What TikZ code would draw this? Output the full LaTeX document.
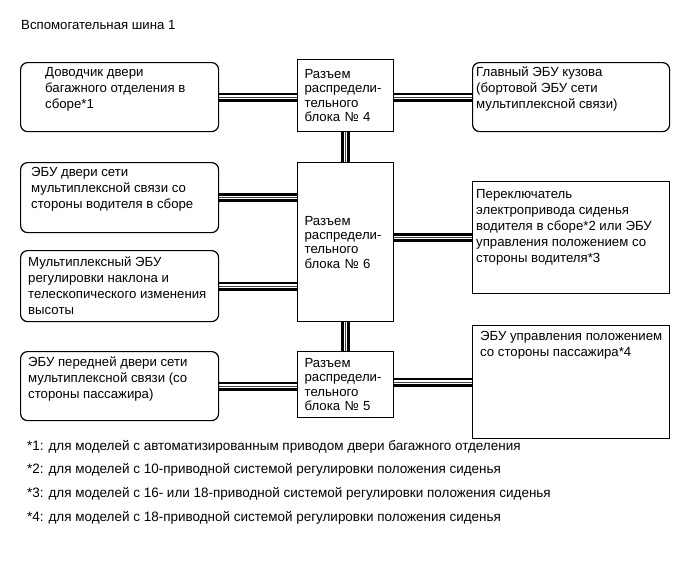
\documentclass[tikz,border=0pt]{standalone}
\usepackage{fontspec}
\setmainfont{Liberation Sans}
\newfontfamily\notefont{Liberation Sans}[FakeStretch=0.99]
\usetikzlibrary{positioning,backgrounds}
\newcommand{\ecufont}{\fontsize{13.2}{16}\selectfont}
\newcommand{\jbfont}{\fontsize{13.2}{14.3}\selectfont}
\tikzset{
  ecu/.style={draw, line width=1.2pt, rounded corners=7pt, anchor=north west,
              minimum width=198pt, inner sep=0pt},
  unit/.style={draw, line width=1.2pt, anchor=north west,
               minimum width=197pt, inner sep=0pt},
  jb/.style={draw, line width=1.2pt, anchor=north west, text width=82pt,
             inner xsep=7pt, inner ysep=0pt, align=left, font=\jbfont},
  txt/.style={anchor=north west, inner sep=0pt, align=left, font=\ecufont},
  note/.style={anchor=base west, inner sep=0pt, font=\notefont\fontsize{13.6}{15}\selectfont},
  bus/.style={line width=9pt, postaction={draw=white, line width=3.6pt},
              postaction={draw=black!75, line width=0.9pt}},
}

\begin{document}
\begin{tikzpicture}[x=1pt, y=-1pt]
  \useasboundingbox (0,0) rectangle (690,562);

  \node[txt, anchor=base west] (title) at (21,29.5) {Вспомогательная шина 1};

  % Left side units
  \node[ecu, minimum height=69pt] (lid)   at (20,62)  {};
  \node[ecu, minimum height=70pt] (ddoor) at (20,162) {};
  \node[ecu, minimum height=71pt] (tilt)  at (20,250) {};
  \node[ecu, minimum height=69pt] (pdoor) at (20,351) {};

  \node[txt] (lidT)   at (45,67)  {Доводчик двери\\багажного отделения в\\сборе*1};
  \node[txt] (ddoorT) at (31,167) {ЭБУ двери сети\\мультиплексной связи со\\стороны водителя в сборе};
  \node[txt] (tiltT)  at (28,256) {Мультиплексный ЭБУ\\регулировки наклона и\\телескопического изменения\\высоты};
  \node[txt] (pdoorT) at (28,356) {ЭБУ передней двери сети\\мультиплексной связи (со\\стороны пассажира)};

  % Junction blocks
  \node[jb, minimum height=72pt]  (j4) at (297,59)  {Разъем\\распредели-\\тельного\\блока № 4};
  \node[jb, minimum height=159pt] (j6) at (297,162) {Разъем\\распредели-\\тельного\\блока № 6};
  \node[jb, minimum height=66pt]  (j5) at (297,351) {Разъем\\распредели-\\тельного\\блока № 5};

  % Right side units
  \node[ecu, minimum width=197pt, minimum height=69pt] (bcm) at (472,62) {};
  \node[unit, minimum height=112pt] (seat)  at (472,181) {};
  \node[unit, minimum height=113pt] (pseat) at (472,325) {};

  \node[txt] (bcmT)   at (476,67)  {Главный ЭБУ кузова\\(бортовой ЭБУ сети\\мультиплексной связи)};
  \node[txt] (seatT)  at (476,189) {Переключатель\\электропривода сиденья\\водителя в сборе*2 или ЭБУ\\управления положением со\\стороны водителя*3};
  \node[txt] (pseatT) at (480,331) {ЭБУ управления положением\\со стороны пассажира*4};

  % Bus lines
  \begin{scope}[on background layer]
    \draw[bus] (lid.east)   -- (lid.east -| j4.west);
    \draw[bus] (j4.east |- bcm.east) -- (bcm.east -| bcm.west);
    \draw[bus] (j4.south)   -- (j6.north);
    \draw[bus] (ddoor.east) -- (ddoor.east -| j6.west);
    \draw[bus] (tilt.east)  -- (tilt.east -| j6.west);
    \draw[bus] (j6.east |- seat.west) -- (seat.west);
    \draw[bus] (j6.south)   -- (j5.north);
    \draw[bus] (pdoor.east) -- (pdoor.east -| j5.west);
    \draw[bus] (j5.east |- pseat.west) -- (pseat.west);
  \end{scope}

  % Footnotes
  \node[note] (n1) at (27,450.5) {*1: для моделей с автоматизированным приводом двери багажного отделения};
  \node[note] (n2) at (27,473.5) {*2: для моделей с 10-приводной системой регулировки положения сиденья};
  \node[note] (n3) at (27,497.5) {*3: для моделей с 16- или 18-приводной системой регулировки положения сиденья};
  \node[note] (n4) at (27,521.5) {*4: для моделей с 18-приводной системой регулировки положения сиденья};

\end{tikzpicture}
\end{document}
